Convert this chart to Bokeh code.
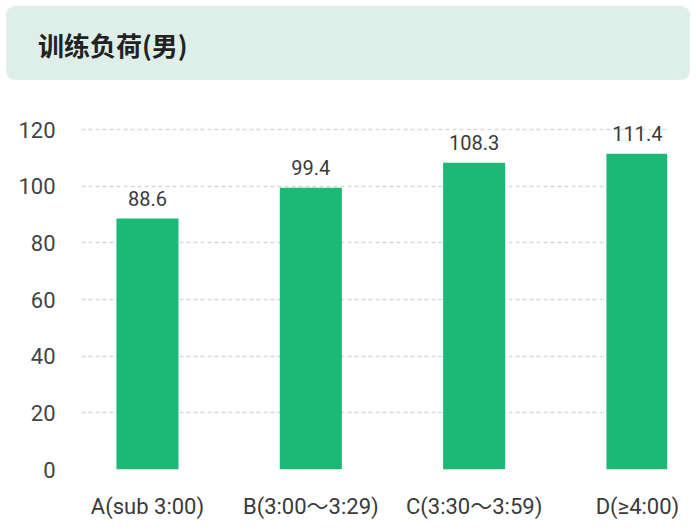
from bokeh.plotting import figure
from bokeh.layouts import column
from bokeh.models import ColumnDataSource, FixedTicker, Range1d, Div
from bokeh.embed import file_html
from bokeh.resources import INLINE
from bokeh.core.properties import value

title_text = "训练负荷(男)"
categories = ["A(sub 3:00)", "B(3:00～3:29)", "C(3:30～3:59)", "D(≥4:00)"]
values = [88.6, 99.4, 108.3, 111.4]
y_ticks = [0, 20, 40, 60, 80, 100, 120]

W = 696
HEAD_H = 86
MAIN_H = 532 - HEAD_H

# ---- header ----
header = Div(text=title_text, width=684, height=74, margin=(6, 6, 6, 6),
             styles={"background-color": "#deefea", "border-radius": "9px",
                     "font-family": "'Noto Sans CJK SC', sans-serif", "font-size": "26px",
                     "font-weight": "bold", "color": "#222222",
                     "padding-left": "32px", "padding-top": "4px",
                     "box-sizing": "border-box", "display": "flex",
                     "align-items": "center"})

# ---- main chart ----
xs = list(range(len(categories)))
labels = [f"{v:.1f}" for v in values]
src = ColumnDataSource(dict(x=xs, top=values, label=labels))

top_px = 100 - HEAD_H
bottom_px = 469 - HEAD_H
p = figure(width=W, height=MAIN_H, output_backend="svg", toolbar_location=None,
           x_range=Range1d(-0.404, 3.184), y_range=Range1d(0, (469 - 100) / (340 / 120)),
           min_border_left=81, min_border_right=W - 667, min_border_top=top_px,
           min_border_bottom=MAIN_H - bottom_px, outline_line_color=None,
           background_fill_color="white", border_fill_color="white")

p.vbar(x="x", top="top", width=0.38, bottom=0, source=src, color="#1bb876", line_color=None)
p.text(x="x", y="top", text="label", source=src, text_align="center",
       text_baseline="alphabetic", y_offset=-20, text_font=value("Roboto"),
       text_font_size="20px", text_color="#3a3a3a")

p.xaxis.ticker = FixedTicker(ticks=xs)
p.xaxis.major_label_overrides = {i: c for i, c in enumerate(categories)}
p.xaxis.major_label_text_font = "Roboto, 'Noto Sans CJK SC'"
p.xaxis.major_label_text_font_size = "22px"
p.xaxis.major_label_text_color = "#3a3a3a"
p.xaxis.major_label_standoff = 18
p.xaxis.axis_line_color = None
p.xaxis.major_tick_line_color = None
p.xaxis.minor_tick_line_color = None

p.yaxis.ticker = FixedTicker(ticks=y_ticks)
p.yaxis.major_label_text_font = "Roboto"
p.yaxis.major_label_text_font_size = "22px"
p.yaxis.major_label_text_color = "#444444"
p.yaxis.major_label_standoff = 20
p.yaxis.axis_line_color = None
p.yaxis.major_tick_line_color = None
p.yaxis.minor_tick_line_color = None

p.xgrid.grid_line_color = None
p.ygrid.grid_line_color = "#d9d9d9"
p.ygrid.grid_line_dash = "4 3"
p.ygrid.grid_line_width = 1.5

layout = column(header, p, spacing=0)
open("out.html", "w").write(file_html(layout, INLINE))
